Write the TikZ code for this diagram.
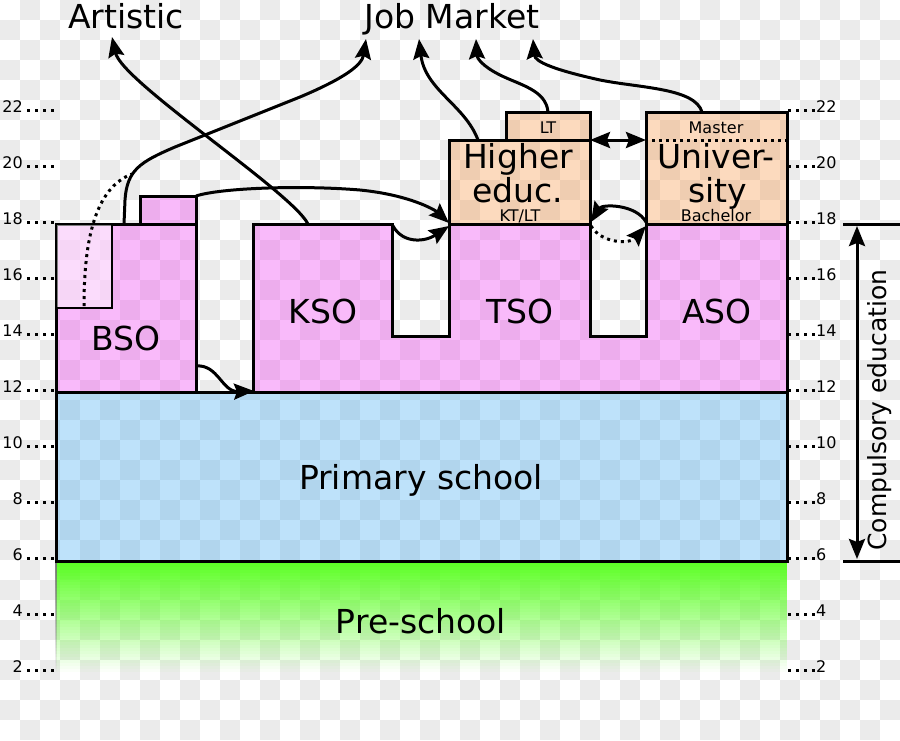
\documentclass[tikz,border=0pt]{standalone}
\usepackage{fontspec}
\setmainfont{DejaVu Sans}
\usetikzlibrary{arrows.meta}
\definecolor{chk}{RGB}{235,235,235}
\definecolor{pinkc}{RGB}{240,82,242}
\definecolor{bluec}{RGB}{92,182,242}
\definecolor{peachc}{RGB}{247,162,92}
\definecolor{greenc}{RGB}{80,255,20}
\begin{document}
\begin{tikzpicture}[x=1pt,y=-1pt,
  box/.style={draw=black, line width=3pt, fill opacity=0.4},
  conn/.style={line width=3pt, -{Stealth[length=20pt,width=16pt,inset=3pt]}},
  dconn/.style={line width=3pt, {Stealth[length=20pt,width=16pt,inset=3pt]}-{Stealth[length=20pt,width=16pt,inset=3pt]}},
  dotline/.style={line width=3pt, dash pattern=on 3pt off 4pt},
  big/.style={font=\fontsize{33}{36}\selectfont, inner sep=0pt},
  small/.style={font=\fontsize{16}{18}\selectfont, inner sep=0pt},
  ticklbl/.style={font=\fontsize{16}{18}\selectfont, inner sep=0pt},
  tickdot/.style={line width=2.6pt, dash pattern=on 2.6pt off 5.4pt}]
\useasboundingbox (0,0) rectangle (900,740);
% transparency checkerboard
\foreach \i in {0,...,44}{
  \foreach \j in {0,...,36}{
    \pgfmathtruncatemacro\odd{mod(\i+\j,2)}
    \ifnum\odd=1 \fill[chk] (\i*20,\j*20) rectangle ++(20,20); \fi
  }
}
% pre-school fading green
\foreach \k in {0,...,36}{
  \pgfmathsetmacro\op{0.93*(1-\k/37)}
  \fill[greenc, fill opacity=\op] (56,561+\k*3) rectangle (787,564+\k*3);
  \draw[black!55, line width=1.5pt, draw opacity=\op] (56,561+\k*3) -- (56,564+\k*3);
}
% primary school
\draw[box, fill=bluec] (56,392) rectangle (787,561);
% BSO
\draw[box, fill=pinkc] (56,224) rectangle (196,392);
\draw[box, fill=pinkc] (140,196) rectangle (196,224);
\draw[black, line width=2.4pt, fill=white, fill opacity=0.5] (56,224) rectangle (112,308);
% KSO / TSO / ASO
\draw[box, fill=pinkc, line join=miter] (253,392) -- (253,224) -- (392,224) -- (392,336) -- (449,336) -- (449,224)
  -- (590,224) -- (590,336) -- (646,336) -- (646,224) -- (787,224) -- (787,392) -- cycle;
% higher education
\draw[box, fill=peachc] (449,140) rectangle (590,224);
\draw[box, fill=peachc] (506,112) rectangle (590,140);
\draw[box, fill=peachc] (646,112) rectangle (787,224);
\draw[dotline] (652,140) -- (787,140);

% named points
\coordinate (artTip) at (112,37);
\coordinate (jm1) at (366,39);
\coordinate (jm2) at (419,39);
\coordinate (jm3) at (476,39);
\coordinate (jm4) at (533,39);
\coordinate (ksoTop) at (308,224);
\coordinate (bsoTop) at (124,224);
\coordinate (bsoLight) at (84,306);
\coordinate (hedTop) at (478,140);
\coordinate (ltTop) at (548,112);
\coordinate (uniTop) at (702,112);
\coordinate (bsoSmall) at (196,196);
\coordinate (hedCorner) at (449,223);
\coordinate (hedCorner2) at (449,226);
\coordinate (ksoRight) at (393,226);
\coordinate (bsoRight) at (196,366);
\coordinate (ksoBottom) at (254,391);
\coordinate (ltRight) at (590,140);
\coordinate (uniLeft) at (646,140);
\coordinate (hedRight) at (591,222);
\coordinate (uniBL) at (646,222);
\coordinate (tsoRight) at (591,226);
\coordinate (asoLeft) at (646,226);
\coordinate (ceTop) at (857,226);
\coordinate (ceBot) at (857,559);

% connectors
\draw[conn] (ksoTop) .. controls (292,192) and (122,82) .. (artTip);
\draw[conn] (bsoTop) -- (125,200) .. controls (127,170) and (140,162) .. (175,147) -- (300,97) .. controls (345,78) and (362,65) .. (jm1);
\draw[dotline] (bsoLight) .. controls (84,240) and (95,188) .. (132,174);
\draw[conn] (hedTop) .. controls (465,105) and (425,90) .. (jm2);
\draw[conn] (ltTop) .. controls (546,90) and (520,85) .. (500,75) .. controls (482,66) and (477,58) .. (jm3);
\draw[conn] (uniTop) .. controls (695,88) and (640,88) .. (600,80) .. controls (555,70) and (535,62) .. (jm4);
\draw[conn] (bsoSmall) .. controls (220,188) and (300,185) .. (360,190) .. controls (410,195) and (435,210) .. (hedCorner);
\draw[conn] (ksoRight) .. controls (403,244) and (425,242) .. (hedCorner2);
\draw[conn] (bsoRight) .. controls (218,364) and (222,392) .. (ksoBottom);
\draw[dconn] (ltRight) -- (uniLeft);
\draw[conn] (uniBL) .. controls (636,204) and (602,204) .. (hedRight);
\draw[conn, dash pattern=on 3pt off 4pt] (tsoRight) .. controls (602,244) and (630,244) .. (asoLeft);

% compulsory education
\coordinate (ceL1) at (843,224);
\coordinate (ceR1) at (900,224);
\coordinate (ceL2) at (843,561);
\coordinate (ceR2) at (900,561);
\draw[line width=3pt] (ceL1) -- (ceR1);
\draw[line width=3pt] (ceL2) -- (ceR2);
\draw[dconn] (ceTop) -- (ceBot);
\node[rotate=90, font=\fontsize{25}{28}\selectfont, inner sep=0pt] (comp) at (880,410) {Compulsory education};

% tick labels
\foreach \a in {22,20,18,16,14,12,10,8,6,4,2}{
  \pgfmathsetmacro\yy{224+(18-\a)*28}
  \node[ticklbl, anchor=base east] (tl\a) at (23,\yy) {\a};
  \node[ticklbl, anchor=base west] (tr\a) at (816,\yy) {\a};
  \draw[tickdot] (27,\yy-1.3) -- (56,\yy-1.3);
  \draw[tickdot] (788,\yy-1.3) -- (815,\yy-1.3);
}

% texts
\node[big, anchor=base] (artistic) at (126,28) {Artistic};
\node[big, anchor=base] (jobmarket) at (452,28) {Job Market};
\node[big, anchor=base] (bso) at (126,350) {BSO};
\node[big, anchor=base] (kso) at (323,323) {KSO};
\node[big, anchor=base] (tso) at (520,323) {TSO};
\node[big, anchor=base] (aso) at (717,323) {ASO};
\node[big, anchor=base] (primary) at (421,489) {Primary school};
\node[big, anchor=base] (pre) at (421,633) {Pre-school};
\node[big, anchor=base] (hed1) at (518,168) {Higher};
\node[big, anchor=base] (hed2) at (518,202) {educ.};
\node[small, anchor=base] (ktlt) at (520,221) {KT/LT};
\node[small, anchor=base] (lt) at (548,133) {LT};
\node[small, anchor=base] (master) at (716,133) {Master};
\node[big, anchor=base] (uni1) at (716,168) {Univer-};
\node[big, anchor=base] (uni2) at (718,202) {sity};
\node[small, anchor=base] (bachelor) at (716,221) {Bachelor};
\end{tikzpicture}
\end{document}
